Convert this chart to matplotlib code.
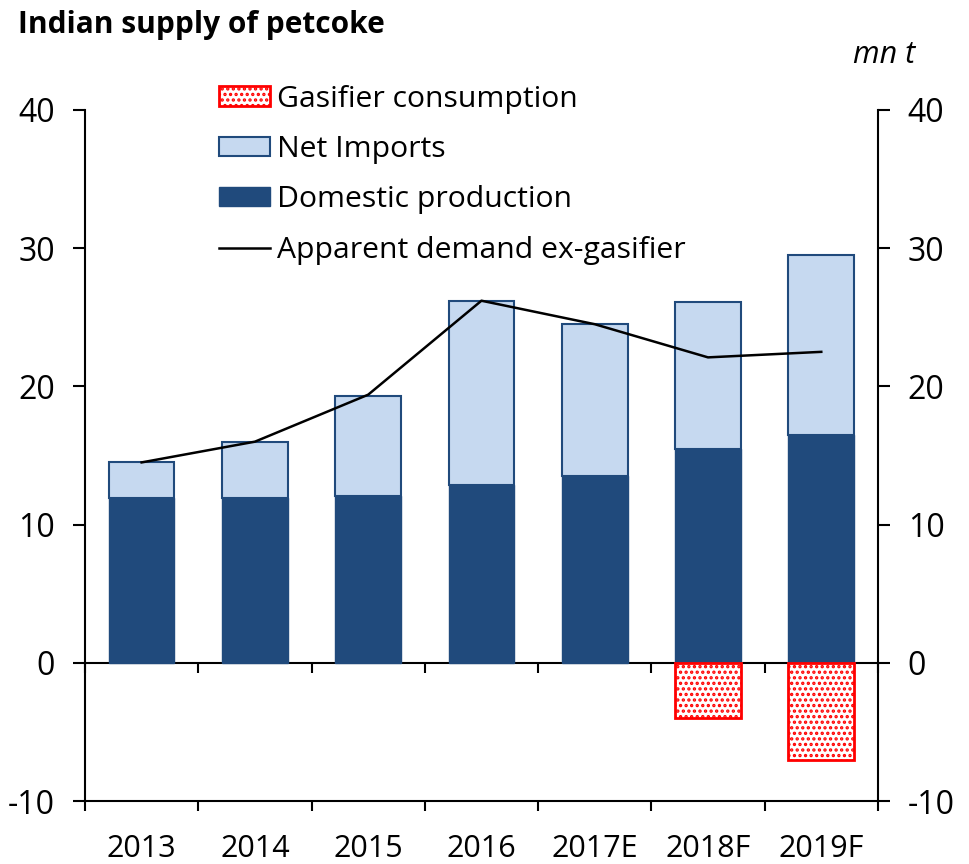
import numpy as np
import matplotlib.pyplot as plt

plt.rcParams['font.family'] = ['Open Sans', 'DejaVu Sans']
plt.rcParams['hatch.linewidth'] = 1.6

years = ['2013', '2014', '2015', '2016', '2017E', '2018F', '2019F']
domestic = [11.9, 11.9, 12.1, 12.9, 13.5, 15.5, 16.5]
net_imports = [2.6, 4.1, 7.2, 13.3, 11.0, 10.6, 13.0]
gasifier = [0, 0, 0, 0, 0, -4.0, -7.0]
demand = [14.5, 16.0, 19.4, 26.2, 24.5, 22.1, 22.5]

DARK = '#204a7c'
LIGHT = '#c6d9f0'

fig = plt.figure(figsize=(9.69, 8.64), dpi=100)
ax = fig.add_axes([0.0877, 0.0729, 0.8183, 0.7998])

x = np.arange(len(years))
w = 0.58

ax.bar(x, domestic, w, color=DARK, edgecolor=DARK, linewidth=1, label='Domestic production', zorder=2)
ax.bar(x, net_imports, w, bottom=domestic, color=LIGHT, edgecolor=DARK, linewidth=1.5,
       label='Net Imports', zorder=2)
g = [v if v != 0 else np.nan for v in gasifier]
ax.bar(x, g, w, color='white', edgecolor='red', hatch='...', linewidth=2,
       label='Gasifier consumption', zorder=2)
ax.plot(x, demand, color='black', lw=1.8, label='Apparent demand ex-gasifier', zorder=3)

ax.set_xlim(-0.5, len(years) - 0.5)
ax.set_ylim(-10, 40)
ax.set_yticks([-10, 0, 10, 20, 30, 40])
ax.set_yticklabels(['-10', '0', '10', '20', '30', '40'])

for s in ['top', 'right']:
    ax.spines[s].set_visible(False)
for s in ['left', 'bottom']:
    ax.spines[s].set_linewidth(1.5)

ax.tick_params(axis='y', direction='out', length=8.5, width=1.5, labelsize=23, pad=13)
ax.set_xticks(x)
ax.set_xticklabels(years)
ax.set_xticks(np.arange(-0.5, len(years)), minor=True)
ax.tick_params(axis='x', which='major', length=0, labelsize=22, pad=24)
ax.tick_params(axis='x', which='minor', direction='out', length=7.5, width=1.5)

# zero line with its own ticks
zero = ax.secondary_xaxis(0.2)
zero.set_xticks(np.arange(-0.5, len(years)))
zero.set_xticklabels([])
zero.tick_params(direction='out', length=7.5, width=1.5)
zero.spines['bottom'].set_linewidth(1.5)

ax2 = ax.twinx()
ax2.set_ylim(-10, 40)
ax2.set_yticks([-10, 0, 10, 20, 30, 40])
ax2.set_yticklabels(['-10', '0', '10', '20', '30', '40'])
for s in ['top', 'left', 'bottom']:
    ax2.spines[s].set_visible(False)
ax2.spines['right'].set_linewidth(1.5)
ax2.tick_params(axis='y', direction='out', length=8.5, width=1.5, labelsize=23, pad=13)

h, l = ax.get_legend_handles_labels()
order = [3, 2, 1, 0]
fig.legend([h[i] for i in order], [l[i] for i in order], loc='upper left',
           bbox_to_anchor=(0.226, 0.902), frameon=False, fontsize=21.7,
           handlelength=1.7, handleheight=0.6, handletextpad=0.22,
           labelspacing=0.71, borderpad=0, borderaxespad=0)

fig.text(0.019, 0.988, 'Indian supply of petcoke', fontsize=21.5, fontweight='bold', va='top')
fig.text(0.944, 0.936, 'mn t', fontsize=22, fontstyle='italic', ha='right', va='center')

fig.savefig('out.png', dpi=100)
